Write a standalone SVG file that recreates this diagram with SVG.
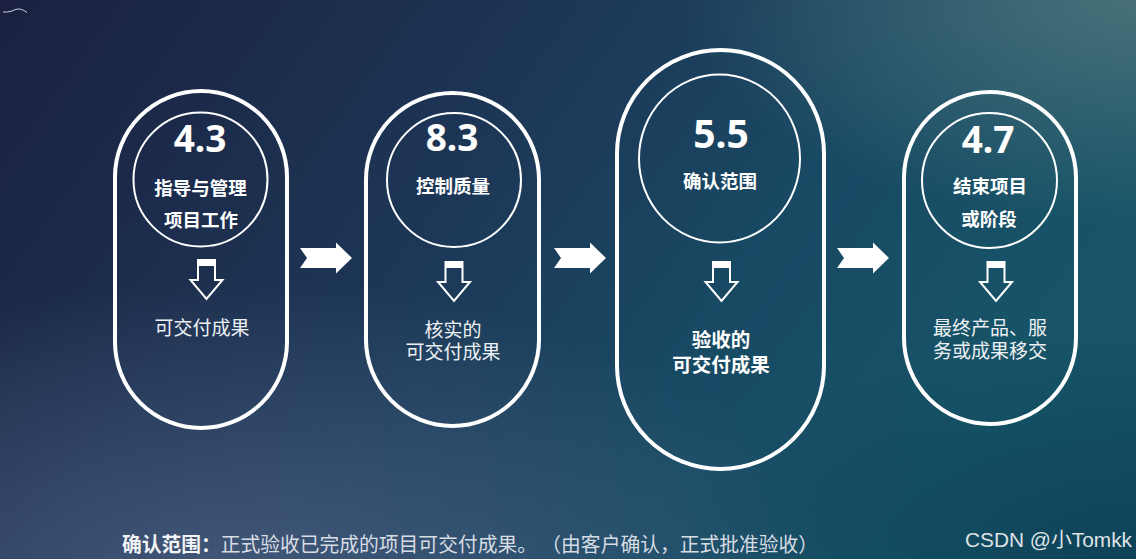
<svg xmlns="http://www.w3.org/2000/svg" width="1136" height="559" viewBox="0 0 1136 559">
  <defs>
    <linearGradient id="bg" x1="0" y1="0" x2="1" y2="0.35">
      <stop offset="0" stop-color="#1b2040"/>
      <stop offset="0.45" stop-color="#1d3656"/>
      <stop offset="0.75" stop-color="#184a64"/>
      <stop offset="1" stop-color="#175468"/>
    </linearGradient>
    <radialGradient id="bl" cx="0.2" cy="1.05" r="0.55">
      <stop offset="0" stop-color="#4a5e80" stop-opacity="0.85"/>
      <stop offset="1" stop-color="#4a5e80" stop-opacity="0"/>
    </radialGradient>
    <radialGradient id="tr" cx="1" cy="0" r="0.4">
      <stop offset="0" stop-color="#54797e" stop-opacity="0.8"/>
      <stop offset="1" stop-color="#54797e" stop-opacity="0"/>
    </radialGradient>
    <radialGradient id="br" cx="1" cy="1" r="0.4">
      <stop offset="0" stop-color="#0b3e55" stop-opacity="0.8"/>
      <stop offset="1" stop-color="#0b3e55" stop-opacity="0"/>
    </radialGradient>
    <path id="darrow" d="M-8.5,0 H8.5 V20 H16 L0,39 L-16,20 H-8.5 Z"/>
    <path id="rarrow" d="M0,-10 L36,-10 L36,-15.5 L52,0 L36,15.5 L36,10 L0,10 L7,0 Z"/>
  </defs>
  <style>
    .pill { fill: none; stroke: #ffffff; stroke-width: 4; }
    .ring { fill: none; stroke: #ffffff; stroke-width: 2; }
    .num { font-family: "Noto Sans", "Open Sans", sans-serif; font-weight: bold; fill: #ffffff; text-anchor: middle; }
    .title { font-family: "Noto Sans CJK SC", sans-serif; font-weight: bold; font-size: 18.5px; fill: #ffffff; text-anchor: middle; }
    .out { font-family: "Noto Sans CJK SC", sans-serif; font-size: 19px; fill: #eef1f4; text-anchor: middle; }
    .outb { font-family: "Noto Sans CJK SC", sans-serif; font-weight: bold; font-size: 19.5px; fill: #ffffff; text-anchor: middle; }
    .da { fill: none; stroke: #ffffff; stroke-width: 2; stroke-linejoin: miter; }
    .dab { fill: #ffffff; }
    .ra { fill: #ffffff; }
  </style>

  <rect x="0" y="0" width="1136" height="559" fill="url(#bg)"/>
  <rect x="0" y="0" width="1136" height="559" fill="url(#bl)"/>
  <rect x="0" y="0" width="1136" height="559" fill="url(#tr)"/>
  <rect x="0" y="0" width="1136" height="559" fill="url(#br)"/>

  <path d="M3,12 Q8,12.5 12,11 Q16,8.5 20,9 Q24,10 27,12.5" fill="none" stroke="#c8d0e0" stroke-width="1"/>

  <g id="node-4-3">
    <rect class="pill" x="115" y="91" width="172" height="337" rx="86"/>
    <circle class="ring" cx="200.5" cy="179.5" r="67"/>
    <text class="num" x="200" y="152" font-size="37">4.3</text>
    <text class="title" x="200.5" y="195">指导与管理</text>
    <text class="title" x="201" y="227">项目工作</text>
    <g transform="translate(206.5,260)">
      <use href="#darrow" class="da"/>
      <rect class="dab" x="-8.5" y="0" width="17" height="6"/>
    </g>
    <text class="out" x="202" y="335">可交付成果</text>
  </g>

  <g id="node-8-3">
    <rect class="pill" x="366" y="93" width="173" height="333" rx="86.5"/>
    <circle class="ring" cx="454" cy="180" r="67"/>
    <text class="num" x="452" y="151" font-size="37">8.3</text>
    <text class="title" x="453" y="193">控制质量</text>
    <g transform="translate(454,262)">
      <use href="#darrow" class="da"/>
      <rect class="dab" x="-8.5" y="0" width="17" height="6"/>
    </g>
    <text class="out" x="453" y="337">核实的</text>
    <text class="out" x="453" y="359">可交付成果</text>
  </g>

  <g id="node-5-5">
    <rect class="pill" x="617" y="50" width="207" height="419" rx="103.5"/>
    <ellipse class="ring" cx="719.5" cy="158.5" rx="80.5" ry="84"/>
    <text class="num" x="721" y="148" font-size="39">5.5</text>
    <text class="title" x="720" y="188">确认范围</text>
    <g transform="translate(721.5,262)">
      <use href="#darrow" class="da"/>
      <rect class="dab" x="-8.5" y="0" width="17" height="6"/>
    </g>
    <text class="outb" x="721" y="347">验收的</text>
    <text class="outb" x="721" y="372">可交付成果</text>
  </g>

  <g id="node-4-7">
    <rect class="pill" x="904" y="92" width="172" height="332" rx="86"/>
    <circle class="ring" cx="989.5" cy="180.5" r="67.5"/>
    <text class="num" x="988" y="153" font-size="37">4.7</text>
    <text class="title" x="990" y="193">结束项目</text>
    <text class="title" x="989" y="226">或阶段</text>
    <g transform="translate(996,262)">
      <use href="#darrow" class="da"/>
      <rect class="dab" x="-8.5" y="0" width="17" height="6"/>
    </g>
    <text class="out" x="990" y="335">最终产品、服</text>
    <text class="out" x="990" y="358">务或成果移交</text>
  </g>

  <g id="connectors">
    <use href="#rarrow" class="ra" transform="translate(300,258)"/>
    <use href="#rarrow" class="ra" transform="translate(554,258)"/>
    <use href="#rarrow" class="ra" transform="translate(837,258)"/>
  </g>

  <text x="122" y="552" font-family="Noto Sans CJK SC, sans-serif" font-size="20" fill="#d8dde3" textLength="696" lengthAdjust="spacingAndGlyphs"><tspan font-weight="bold" fill="#f2f4f6">确认范围：</tspan>正式验收已完成的项目可交付成果。 （由客户确认，正式批准验收）</text>

  <text x="965" y="547" font-family="Liberation Sans, Noto Sans CJK SC, sans-serif" font-size="20" fill="#dfe3e6" textLength="167" lengthAdjust="spacingAndGlyphs">CSDN @小Tomkk</text>
</svg>
